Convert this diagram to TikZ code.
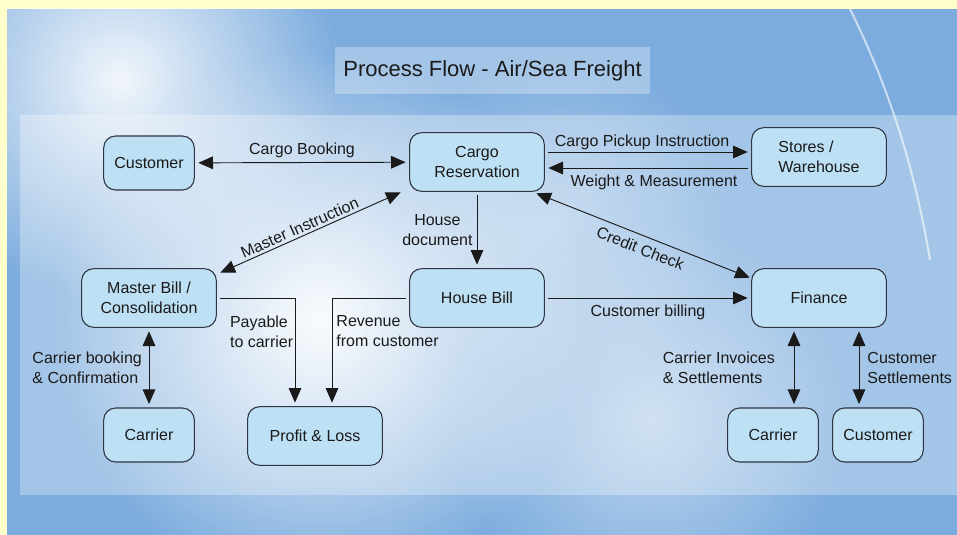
\documentclass[tikz,border=0pt]{standalone}
\usepackage{fontspec}
\setmainfont{Liberation Sans}
\usetikzlibrary{arrows.meta,fadings}
\definecolor{frame}{RGB}{255,255,204}
\definecolor{skyblue}{RGB}{124,172,222}
\definecolor{boxfill}{RGB}{190,224,244}
\definecolor{boxline}{HTML}{2E3440}
\definecolor{ink}{HTML}{1A1A1A}
\tikzfading[name=glow, inner color=transparent!0, outer color=transparent!100]

\begin{document}
\begin{tikzpicture}[
    x=0.75pt, y=-0.75pt,
    font=\fontsize{12}{15}\selectfont,
    >={Triangle[length=11pt,width=9.5pt]},
    bigbox/.style={draw=boxline, line width=0.8pt, fill=boxfill, rounded corners=9pt, minimum width=101pt, minimum height=44pt, align=center, outer sep=3pt, text=ink},
    smallbox/.style={bigbox, minimum width=68pt, minimum height=40.5pt},
    conn/.style={draw=ink, line width=0.7pt},
    lbl/.style={text=ink, inner sep=1pt}
]
    \useasboundingbox (0,0) rectangle (957,535);

    % Background
    \fill[frame] (0,0) rectangle (957,535);
    \begin{scope}
        \clip (7,9) rectangle (957,535);
        \fill[skyblue] (7,9) rectangle (957,535);
        \fill[white, path fading=glow, opacity=0.9] (120,80) circle (220);
        \fill[white, path fading=glow, opacity=0.95] (320,320) circle (270);
        \fill[white, path fading=glow, opacity=0.5] (650,420) circle (200);
        \fill[white, path fading=glow, opacity=0.4] (560,220) circle (170);
        \draw[white, opacity=0.6, line width=1.5pt] (850,9) .. controls (890,90) and (915,170) .. (930,260);
    \end{scope}
    \fill[white, opacity=0.3] (20,115) rectangle (957,495);

    % Title
    \node[fill=white, fill opacity=0.3, text opacity=1, text=ink, minimum width=236pt, minimum height=35pt, font=\fontsize{16.5}{20}\selectfont] (title) at (492.5,70.5) {Process Flow - Air/Sea Freight};

    % Nodes
    \node[smallbox] (cust) at (149,163) {Customer};
    \node[bigbox] (cargo) at (477,162) {Cargo\\Reservation};
    \node[bigbox, align=left] (store) at (819,157) {Stores /\\Warehouse};
    \node[bigbox] (master) at (149,298) {Master Bill /\\Consolidation};
    \node[bigbox] (house) at (477,298) {House Bill};
    \node[bigbox] (fin) at (819,298) {Finance};
    \node[smallbox] (carrierA) at (149,435) {Carrier};
    \node[bigbox] (pnl) at (315,436) {Profit \& Loss};
    \node[smallbox] (carrierB) at (773,435) {Carrier};
    \node[smallbox] (custB) at (878,435) {Customer};

    % Arrows
    \draw[conn, <->] (cust) -- (cargo) node[lbl, midway, above=2pt] {Cargo Booking};
    \draw[conn, ->] ([yshift=7.5pt]cargo.east) -- ([yshift=7.5pt]cargo.east -| store.west) node[lbl, pos=0.47, above] {Cargo Pickup Instruction};
    \draw[conn, ->] ([yshift=-4.5pt]cargo.east -| store.west) -- ([yshift=-4.5pt]cargo.east) node[lbl, pos=0.47, below=4pt] {Weight \& Measurement};
    \draw[conn, <->] ([shift={(0,8)}]master.north east) -- ([shift={(-5,-3)}]cargo.south west) node[lbl, pos=0.46, sloped, above=1pt] {Master Instruction};
    \draw[conn, <->] ([shift={(-12,-2)}]cargo.south east) -- ([shift={(2,13)}]fin.north west) node[lbl, pos=0.51, sloped, below=4pt] {Credit Check};
    \draw[conn, ->] (cargo) -- (house) node[lbl, midway, left=2pt, align=center] {House\\document};
    \draw[conn, ->] (house) -- (fin) node[lbl, midway, below=4pt] {Customer billing};
    \draw[conn, ->] (master.east) -| ([xshift=-15pt]pnl.north) node[lbl, pos=0.66, left, align=left] {Payable\\to carrier};
    \draw[conn, ->] (house.west) -| ([xshift=12.75pt]pnl.north) node[lbl, pos=0.66, right=2pt, align=left] {Revenue\\from customer};
    \draw[conn, <->] (master) -- (carrierA) node[lbl, midway, left=4pt, align=left] {Carrier booking\\\& Confirmation};
    \draw[conn, <->] ([xshift=-18.75pt]fin.south) -- ([xshift=-18.75pt]fin.south |- carrierB.north) node[lbl, midway, left=13pt, align=left] {Carrier Invoices\\\& Settlements};
    \draw[conn, <->] ([xshift=30pt]fin.south) -- ([xshift=30pt]fin.south |- custB.north) node[lbl, midway, right=5pt, align=left] {Customer\\Settlements};
\end{tikzpicture}
\end{document}
